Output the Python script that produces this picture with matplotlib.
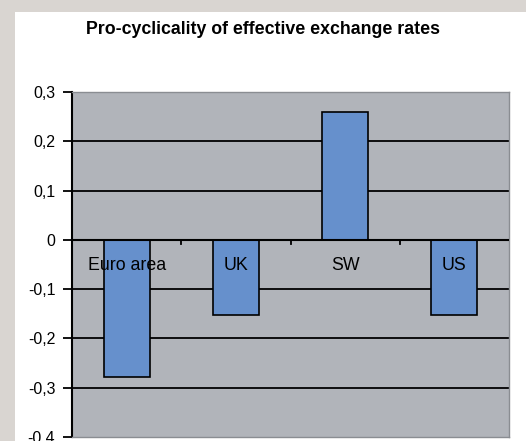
import numpy as np
import matplotlib.pyplot as plt
from matplotlib.patches import Rectangle

plt.rcParams['font.family'] = ['Liberation Sans', 'DejaVu Sans']

# data
countries = ['Euro area', 'UK', 'SW', 'US']
values = [-0.278, -0.152, 0.26, -0.152]
yticks = [0.3, 0.2, 0.1, 0, -0.1, -0.2, -0.3, -0.4]

fig = plt.figure(figsize=(5.26, 4.41), dpi=100, facecolor='#d9d5d1')
# white chart area
fig.patches.append(Rectangle((15 / 526, 0), 1, (441 - 12) / 441,
                             transform=fig.transFigure, facecolor='white',
                             edgecolor='none', zorder=-1))

ax = fig.add_axes([72 / 526, 4 / 441, (509 - 72) / 526, (437 - 92) / 441])
ax.set_facecolor('#b1b4ba')

x = np.arange(len(countries)) + 0.5
ax.bar(x, values, width=0.42, color='#6690cc', edgecolor='black',
       linewidth=1.2, zorder=3)

ax.set_xlim(0, len(countries))
ax.set_ylim(-0.4, 0.3)

# grid lines
for y in yticks[1:-1]:
    ax.axhline(y, color='black', linewidth=1.3, zorder=1)
ax.axhline(0, color='black', linewidth=1.5, zorder=4)

# small ticks on the zero line between categories
for b in range(1, len(countries)):
    ax.plot([b, b], [0, -0.008], color='black', linewidth=1.3, zorder=4)

for xi, lab in zip(x, countries):
    ax.text(xi, -0.052, lab, ha='center', va='center', fontsize=12.8, zorder=5)

ax.set_yticks(yticks)
ax.set_yticklabels([('%.1f' % t).replace('.', ',') if t != 0 else '0' for t in yticks],
                   fontsize=11.5)
ax.tick_params(axis='y', direction='out', length=6.5, width=1.3, pad=5.5)
ax.set_xticks([])

ax.spines['left'].set_color('black')
ax.spines['left'].set_linewidth(1.5)
for s in ['top', 'right', 'bottom']:
    ax.spines[s].set_color('#8a8d92')
    ax.spines[s].set_linewidth(1)

fig.text(263 / 526, 1 - 29 / 441, 'Pro-cyclicality of effective exchange rates',
         ha='center', va='center', fontsize=12.8, fontweight='bold')

fig.savefig('out.png', dpi=100, facecolor=fig.get_facecolor())
